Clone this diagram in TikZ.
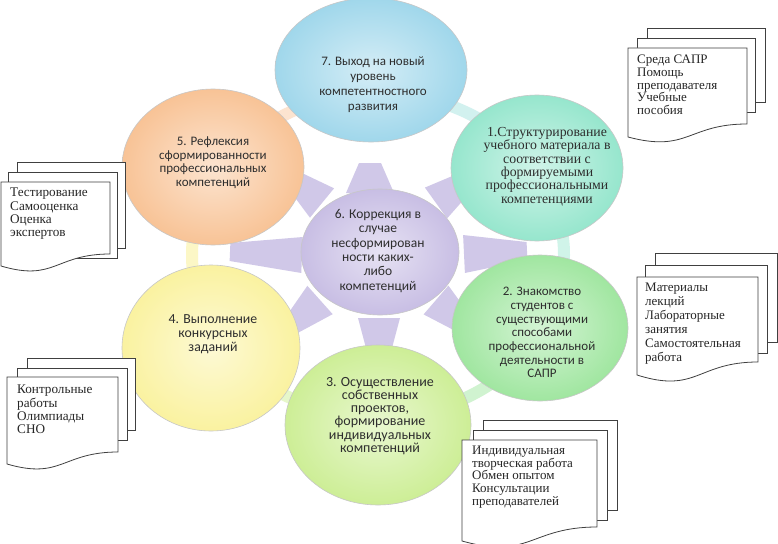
\documentclass[tikz,border=0pt]{standalone}
\usepackage{fontspec}
\setmainfont{Liberation Serif}
\newfontfamily\calfont{Carlito}
\usetikzlibrary{shapes.geometric,calc}
\definecolor{c7}{RGB}{160,215,235}
\definecolor{c1}{RGB}{150,230,205}
\definecolor{c5}{RGB}{248,195,150}
\definecolor{c6}{RGB}{200,190,228}
\definecolor{c4}{RGB}{250,242,160}
\definecolor{c2}{RGB}{160,230,160}
\definecolor{c3}{RGB}{205,238,150}
\newcommand\trap[4]{\fill[arrowc] ($(#1)!#3!90:(#2)$) -- ($(#2)!#4!-90:(#1)$) -- ($(#2)!#4!90:(#1)$) -- ($(#1)!#3!-90:(#2)$) -- cycle;}
\newcommand\ringseg[4]{\begin{scope}\clip (378,255) -- #1 -- #2 -- #3 -- cycle;
  \draw[line width=12pt,#4] (378,255) ellipse[x radius=186pt, y radius=162pt];\end{scope}}
\begin{document}
\begin{tikzpicture}[x=1pt,y=-1pt,
  bub/.style={ellipse, inner sep=0, draw=black!22, line width=0.6pt},
  arrowc/.style={fill=c6!85},
  ctext/.style={align=center, inner sep=0, anchor=north, text=black!82},
  pg/.style={draw=black!75, line width=0.8pt, fill=white},
  stxt/.style={align=left, inner sep=0, anchor=north west, text=black!85}]
\useasboundingbox (0,0) rectangle (778,543);
\fill[white] (0,0) rectangle (778,543);
% ring
\ringseg{(378,-145)}{(572,-95)}{(717,43)}{c7!45!c1!45}
\ringseg{(717,43)}{(778,237)}{(734,437)}{c1!45}
\ringseg{(734,437)}{(587,596)}{(378,655)}{c2!50}
\ringseg{(378,655)}{(184,605)}{(39,467)}{c3!50}
\ringseg{(39,467)}{(-22,255)}{(39,43)}{c4!60}
\ringseg{(39,43)}{(184,-95)}{(378,-145)}{c5!45}
% arrows
\coordinate (aS1) at (370,193); \coordinate (aE1) at (370,163);
\coordinate (aS2) at (436,203); \coordinate (aE2) at (468,180);
\coordinate (aS3) at (464,254); \coordinate (aE3) at (527,251);
\coordinate (aS4) at (436,300); \coordinate (aE4) at (465,325);
\coordinate (aS5) at (379,318); \coordinate (aE5) at (379,348);
\coordinate (aS6) at (320,300); \coordinate (aE6) at (292,325);
\coordinate (aS7) at (302,255); \coordinate (aE7) at (230,252);
\coordinate (aS8) at (322,203); \coordinate (aE8) at (294,180);
\trap{aS1}{aE1}{24pt}{11pt}
\trap{aS2}{aE2}{19pt}{10pt}
\trap{aS3}{aE3}{19pt}{9pt}
\trap{aS4}{aE4}{19pt}{10pt}
\trap{aS5}{aE5}{21pt}{13pt}
\trap{aS6}{aE6}{19pt}{10pt}
\trap{aS7}{aE7}{18pt}{9pt}
\trap{aS8}{aE8}{19pt}{10pt}
% bubbles
\node[bub, minimum width=192pt, minimum height=144pt, shade, inner color=c7!45!white, outer color=c7] (b7) at (371,70) {};
\node[bub, minimum width=172pt, minimum height=146pt, shade, inner color=c1!45!white, outer color=c1] (b1) at (537,168) {};
\node[bub, minimum width=182pt, minimum height=156pt, shade, inner color=c5!45!white, outer color=c5] (b5) at (213,167) {};
\node[bub, minimum width=178pt, minimum height=166pt, shade, inner color=c4!45!white, outer color=c4] (b4) at (211,348) {};
\node[bub, minimum width=176pt, minimum height=146pt, shade, inner color=c2!45!white, outer color=c2] (b2) at (540,328) {};
\node[bub, minimum width=186pt, minimum height=160pt, shade, inner color=c3!45!white, outer color=c3] (b3) at (378,425) {};
\node[bub, minimum width=158pt, minimum height=126pt, shade, inner color=c6!45!white, outer color=c6] (b6) at (380,252) {};
% texts in bubbles
\node[ctext, font=\calfont\fontsize{13}{14.7}\selectfont] (t7) at (373,57) {7. Выход на новый\\уровень\\компетентностного\\развития};
\node[ctext, font=\fontsize{13.8}{13.4}\selectfont] (t1) at (547,127) {1.Структурирование\\учебного материала в\\соответствии с\\формируемыми\\профессиональными\\компетенциями};
\node[ctext, font=\calfont\fontsize{13}{13.4}\selectfont] (t5) at (213,137) {5. Рефлексия\\сформированности\\профессиональных\\компетенций};
\node[ctext, font=\calfont\fontsize{13.5}{14.4}\selectfont] (t6) at (378,209) {6. Коррекция в\\случае\\несформирован\\ности каких-\\либо\\компетенций};
\node[ctext, font=\calfont\fontsize{13}{13.7}\selectfont] (t2) at (542,287) {2. Знакомство\\студентов с\\существующими\\способами\\профессиональной\\деятельности в\\САПР};
\node[ctext, font=\calfont\fontsize{13.8}{14}\selectfont] (t4) at (213,314) {4. Выполнение\\конкурсных\\заданий};
\node[ctext, font=\calfont\fontsize{14}{13.2}\selectfont] (t3) at (380,377) {3. Осуществление\\собственных\\проектов,\\формирование\\индивидуальных\\компетенций};
% document stacks
% A
\draw[pg] (647,28) rectangle (765,102);
\draw[pg] (637,38) rectangle (755,112);
\draw[pg] (628,48) -- (747,48) -- (747,124) .. controls (688,124) and (688,153) .. (628,137) -- cycle;
% B
\draw[pg] (17,162) rectangle (125,248);
\draw[pg] (8,172) rectangle (117,258);
\draw[pg] (1,182) -- (110,182) -- (110,254) .. controls (55,254) and (55,282) .. (1,266) -- cycle;
% C
\draw[pg] (655,253) rectangle (777,342);
\draw[pg] (645,265) rectangle (767,353);
\draw[pg] (637,277) -- (758,277) -- (758,362) .. controls (697,362) and (697,394) .. (637,375) -- cycle;
% D
\draw[pg] (27,358) rectangle (135,430);
\draw[pg] (17,368) rectangle (127,440);
\draw[pg] (7,377) -- (118,377) -- (118,452) .. controls (62,452) and (62,480) .. (7,464) -- cycle;
% E
\draw[pg] (483,420) rectangle (617,510);
\draw[pg] (473,430) rectangle (607,520);
\draw[pg] (462,440) -- (597,440) -- (597,527) .. controls (530,527) and (530,560) .. (462,541) -- cycle;
% stack texts
\node[stxt, font=\fontsize{13}{12.6}\selectfont] (sA) at (637,55) {Среда САПР\\Помощь\\преподавателя\\Учебные\\пособия};
\node[stxt, font=\fontsize{13.2}{13.3}\selectfont] (sB) at (10,188) {Тестирование\\Самооценка\\Оценка\\экспертов};
\node[stxt, font=\fontsize{13}{14}\selectfont] (sC) at (645,283) {Материалы\\лекций\\Лабораторные\\занятия\\Самостоятельная\\работа};
\node[stxt, font=\fontsize{13.2}{13.3}\selectfont] (sD) at (17,385) {Контрольные\\работы\\Олимпиады\\СНО};
\node[stxt, font=\fontsize{13}{12.6}\selectfont] (sE) at (472,446) {Индивидуальная\\творческая работа\\Обмен опытом\\Консультации\\преподавателей};
\end{tikzpicture}
\end{document}
